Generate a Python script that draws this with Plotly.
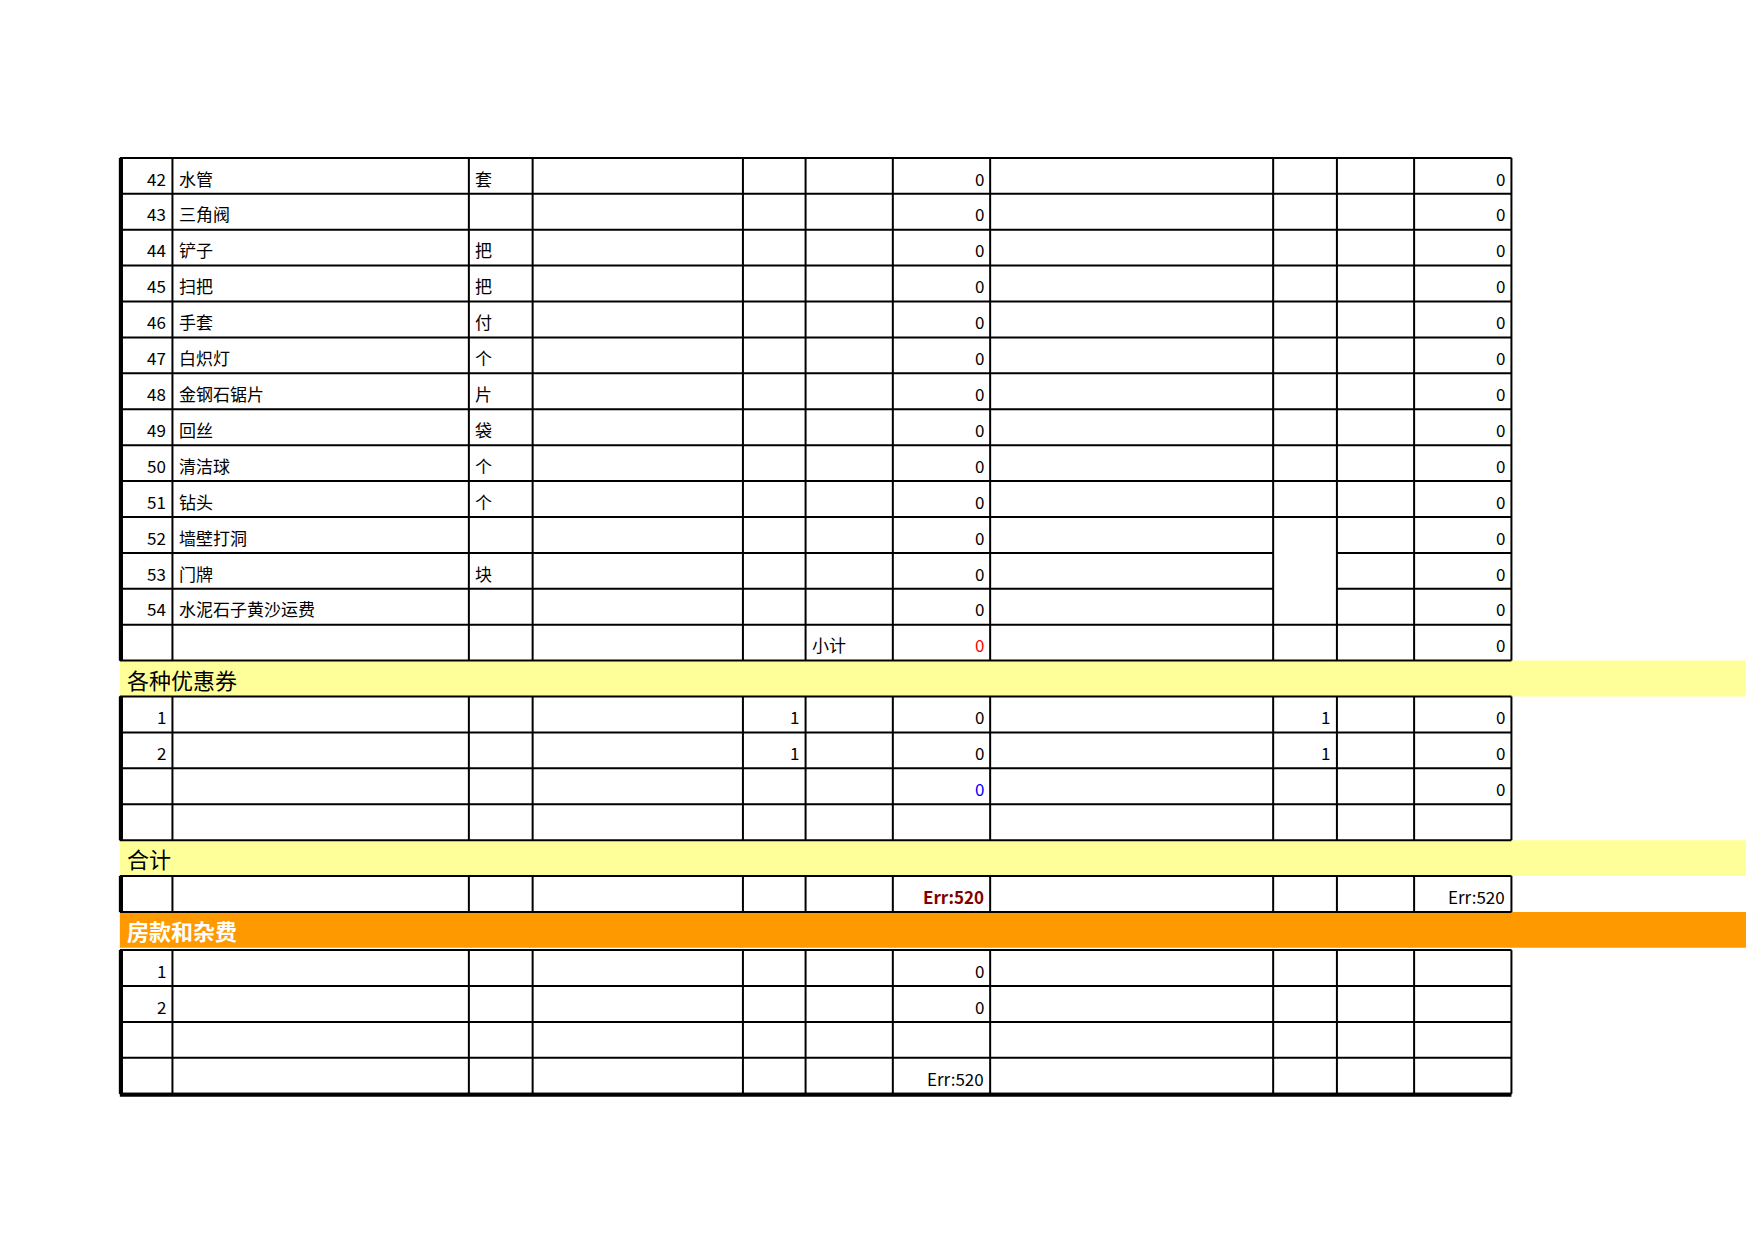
import plotly.graph_objects as go

# ── Sheet data
item_nos = ["42", "43", "44", "45", "46", "47", "48", "49", "50", "51", "52", "53", "54"]
item_names = ["水管", "三角阀", "铲子", "扫把", "手套", "白炽灯", "金钢石锯片", "回丝",
              "清洁球", "钻头", "墙壁打洞", "门牌", "水泥石子黄沙运费"]
item_units = ["套", "", "把", "把", "付", "个", "片", "袋", "个", "个", "", "块", ""]
item_amount = ["0"] * 13
item_total = ["0"] * 13

coupon_nos = ["1", "2", "", ""]
coupon_qty = ["1", "1", "", ""]
coupon_amount = ["0", "0", "0", ""]
coupon_qty2 = ["1", "1", "", ""]
coupon_total = ["0", "0", "0", ""]

house_nos = ["1", "2", "", ""]
house_amount = ["0", "0", "", "Err:520"]

section_titles = ["各种优惠券", "合计", "房款和杂费"]

# ── Geometry (page pixels at 1568 wide, scaled by figure size)
W, H = 1568, 1240 * 1568 / 1754
cols = [100, 147, 412, 469, 657, 713, 791, 878, 1131, 1188, 1257, 1344]
RH = 32.1

fig = go.Figure()
shapes = []


def cell_text(col, y, txt, align="right", color="black", bold=False, size=17):
    if not txt:
        return
    if align == "right":
        x, anchor = cols[col + 1] - 4, "right"
    else:
        x, anchor = cols[col] + 4, "left"
    fig.add_annotation(x=x, y=y + RH / 2 + 2, text=f"<b>{txt}</b>" if bold else txt,
                       xanchor=anchor, yanchor="middle", showarrow=False,
                       font=dict(size=size, color=color, family="Noto Sans CJK SC"))


def grid(top, nrows, skip=None):
    xs, ys = [], []
    for i in range(nrows + 1):
        y = top + i * RH
        if skip and i in skip:
            xs += [cols[0], cols[8], None, cols[9], cols[-1], None]
            ys += [y, y, None, y, y, None]
        else:
            xs += [cols[0], cols[-1], None]
            ys += [y, y, None]
    for c in cols:
        xs += [c, c, None]
        ys += [top, top + nrows * RH, None]
    fig.add_trace(go.Scatter(x=xs, y=ys, mode="lines", line=dict(color="black", width=2),
                             hoverinfo="skip", showlegend=False))
    fig.add_trace(go.Scatter(x=[cols[0] + 1, cols[0] + 1], y=[top, top + nrows * RH], mode="lines",
                             line=dict(color="black", width=4), hoverinfo="skip", showlegend=False))


def band(top, title, fill, color, bold=False):
    shapes.append(dict(type="rect", x0=cols[0], x1=W, y0=top, y1=top + RH, fillcolor=fill,
                       line_width=0, layer="below"))
    fig.add_annotation(x=cols[0] + 5, y=top + RH / 2, text=f"<b>{title}</b>" if bold else title,
                       xanchor="left", yanchor="middle", showarrow=False,
                       font=dict(size=22, color=color, family="Noto Sans CJK SC"))


# ── Items section
top = 134
n = len(item_nos) + 1
grid(top, n, skip={11, 12})
for i in range(len(item_nos)):
    y = top + i * RH
    cell_text(0, y, item_nos[i])
    cell_text(1, y, item_names[i], "left")
    cell_text(2, y, item_units[i], "left")
    cell_text(6, y, item_amount[i])
    cell_text(10, y, item_total[i])
y = top + len(item_nos) * RH
cell_text(5, y, "小计", "left")
cell_text(6, y, "0", color="red")
cell_text(10, y, "0")

# ── Coupons
top = top + n * RH
band(top, section_titles[0], "#ffff99", "black")
top += RH
grid(top, 4)
for i in range(4):
    y = top + i * RH
    cell_text(0, y, coupon_nos[i])
    cell_text(4, y, coupon_qty[i])
    cell_text(6, y, coupon_amount[i], color="blue" if i == 2 else "black")
    cell_text(8, y, coupon_qty2[i])
    cell_text(10, y, coupon_total[i])

# ── Total
top += 4 * RH
band(top, section_titles[1], "#ffff99", "black")
top += RH
grid(top, 1)
cell_text(6, top, "Err:520", color="#800000", bold=True)
cell_text(10, top, "Err:520")

# ── House
top += RH
band(top, section_titles[2], "#ff9900", "white", bold=True)
top += RH + 2
grid(top, 4)
for i in range(4):
    y = top + i * RH
    cell_text(0, y, house_nos[i])
    cell_text(6, y, house_amount[i])
fig.add_trace(go.Scatter(x=[cols[0], cols[-1]], y=[top + 4 * RH + 1] * 2, mode="lines",
                         line=dict(color="black", width=4), hoverinfo="skip", showlegend=False))

fig.update_layout(width=1754, height=1240, margin=dict(l=0, r=0, t=0, b=0),
                  paper_bgcolor="white", plot_bgcolor="white", shapes=shapes,
                  xaxis=dict(range=[0, W], visible=False, fixedrange=True),
                  yaxis=dict(range=[H, 0], visible=False, fixedrange=True))
fig.write_html("out.html")
